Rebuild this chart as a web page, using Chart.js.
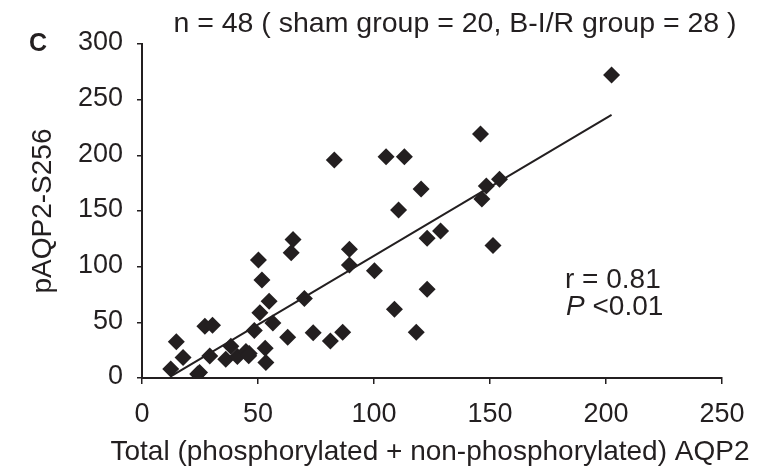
<!DOCTYPE html>
<html>
<head>
<meta charset="utf-8">
<script src="https://cdn.jsdelivr.net/npm/chart.js@4.4.0/dist/chart.umd.min.js"></script>
<style>
  html, body { margin: 0; padding: 0; background: #fff; }
  #wrap { width: 783px; height: 474px; }
</style>
</head>
<body>
<div id="wrap"><canvas id="scatterChart" width="783" height="474"></canvas></div>
<script>
// Total AQP2 (x) vs pAQP2-S256 (y)
const totalAqp2 = [12.4, 14.8, 17.7, 24.0, 24.8, 27.1, 30.4, 29.2, 36.1, 38.3,
                   41.1, 44.8, 46.2, 48.4, 50.2, 51.7, 54.8, 50.8, 56.4, 53.1,
                   53.4, 62.8, 70.0, 73.8, 64.3, 65.1, 82.9, 105.2, 113.1, 120.3,
                   110.6, 128.7, 122.9, 89.4, 89.4, 100.2, 122.9, 108.8, 81.2, 86.5,
                   118.2, 202.4, 145.9, 154.1, 148.4, 146.5, 151.3, 46.0];
const pAqp2 = [8.0, 32.5, 18.4, 3.5, 5.0, 46.5, 47.3, 19.8, 16.8, 28.5,
               19.4, 23.8, 22.0, 42.7, 106.0, 88.0, 69.0, 58.5, 49.5, 26.8,
               14.0, 36.5, 71.3, 40.7, 112.6, 124.5, 195.9, 198.8, 198.8, 169.8,
               151.0, 132.0, 125.5, 115.6, 101.5, 96.4, 79.7, 61.7, 33.2, 41.0,
               41.0, 272.2, 219.2, 178.5, 172.5, 160.8, 118.9, 20.0];
// linear trendline end points
const trendX = [12.4, 202.4];
const trendY = [1.5, 236.3];

const xTicks = [0, 50, 100, 150, 200, 250];
const yTicks = [0, 50, 100, 150, 200, 250, 300];

const FONT = "'Liberation Sans', Arial, sans-serif";
const INK = '#231f20';

// extra text: panel letter, header, r / P annotation, x title
const textPlugin = {
    id: 'figureText',
    afterDraw(chart) {
        const ctx = chart.ctx;
        ctx.save();
        ctx.fillStyle = INK;

        ctx.textBaseline = 'middle';
        ctx.font = 'bold 25px ' + FONT;
        ctx.textAlign = 'center';
        ctx.fillText('C', 38, 44);

        ctx.textBaseline = 'alphabetic';
        ctx.font = '28.5px ' + FONT;
        ctx.fillText('n = 48 ( sham group = 20, B-I/R group = 28 )', 455, 32);

        ctx.font = '28px ' + FONT;
        ctx.fillText('Total (phosphorylated + non-phosphorylated) AQP2', 430, 460);

        ctx.textAlign = 'left';
        ctx.fillText('r = 0.81', 565, 288);
        ctx.font = 'italic 28px ' + FONT;
        ctx.fillText('P', 566, 315);
        const pw = ctx.measureText('P ').width;
        ctx.font = '28px ' + FONT;
        ctx.fillText('<0.01', 566 + pw, 315);
        ctx.restore();
    }
};

document.addEventListener('DOMContentLoaded', function() {
    const points = totalAqp2.map((x, i) => ({ x: x, y: pAqp2[i] }));
    const trend = trendX.map((x, i) => ({ x: x, y: trendY[i] }));

    new Chart(document.getElementById('scatterChart'), {
        type: 'scatter',
        data: {
            datasets: [{
                label: 'pAQP2',
                data: points,
                pointStyle: 'rectRot',
                pointRadius: 8.5,
                pointHoverRadius: 8.5,
                backgroundColor: INK,
                borderColor: INK,
                borderWidth: 0,
                order: 2
            }, {
                label: 'trend',
                type: 'line',
                data: trend,
                borderColor: INK,
                borderWidth: 2,
                pointRadius: 0,
                fill: false,
                order: 1
            }]
        },
        options: {
            responsive: false,
            animation: false,
            devicePixelRatio: 1,
            layout: {
                padding: { left: 0, right: 61, top: 44, bottom: 0 }
            },
            plugins: {
                legend: { display: false },
                title: { display: false },
                tooltip: { enabled: false }
            },
            scales: {
                x: {
                    type: 'linear',
                    min: 0,
                    max: 250,
                    afterFit: function(scale) { scale.height = 96; },
                    afterBuildTicks: function(scale) {
                        scale.ticks = xTicks.map(v => ({ value: v }));
                    },
                    grid: {
                        drawOnChartArea: false,
                        drawTicks: true,
                        tickLength: 6,
                        color: INK,
                        lineWidth: 1.5
                    },
                    border: { display: true, color: INK, width: 2 },
                    ticks: {
                        color: INK,
                        padding: 14,
                        maxRotation: 0,
                        font: { family: FONT, size: 27 }
                    }
                },
                y: {
                    type: 'linear',
                    min: 0,
                    max: 300,
                    afterFit: function(scale) { scale.width = 142; },
                    afterBuildTicks: function(scale) {
                        scale.ticks = yTicks.map(v => ({ value: v }));
                    },
                    grid: {
                        drawOnChartArea: false,
                        drawTicks: true,
                        tickLength: 5,
                        color: INK,
                        lineWidth: 1.5
                    },
                    border: { display: true, color: INK, width: 2 },
                    ticks: {
                        color: INK,
                        padding: 14,
                        labelOffset: -1,
                        font: { family: FONT, size: 27 }
                    },
                    title: {
                        display: true,
                        text: 'pAQP2-S256',
                        color: INK,
                        font: { family: FONT, size: 28 },
                        padding: { top: 26, bottom: 0 }
                    }
                }
            }
        },
        plugins: [textPlugin]
    });
});
</script>
</body>
</html>
